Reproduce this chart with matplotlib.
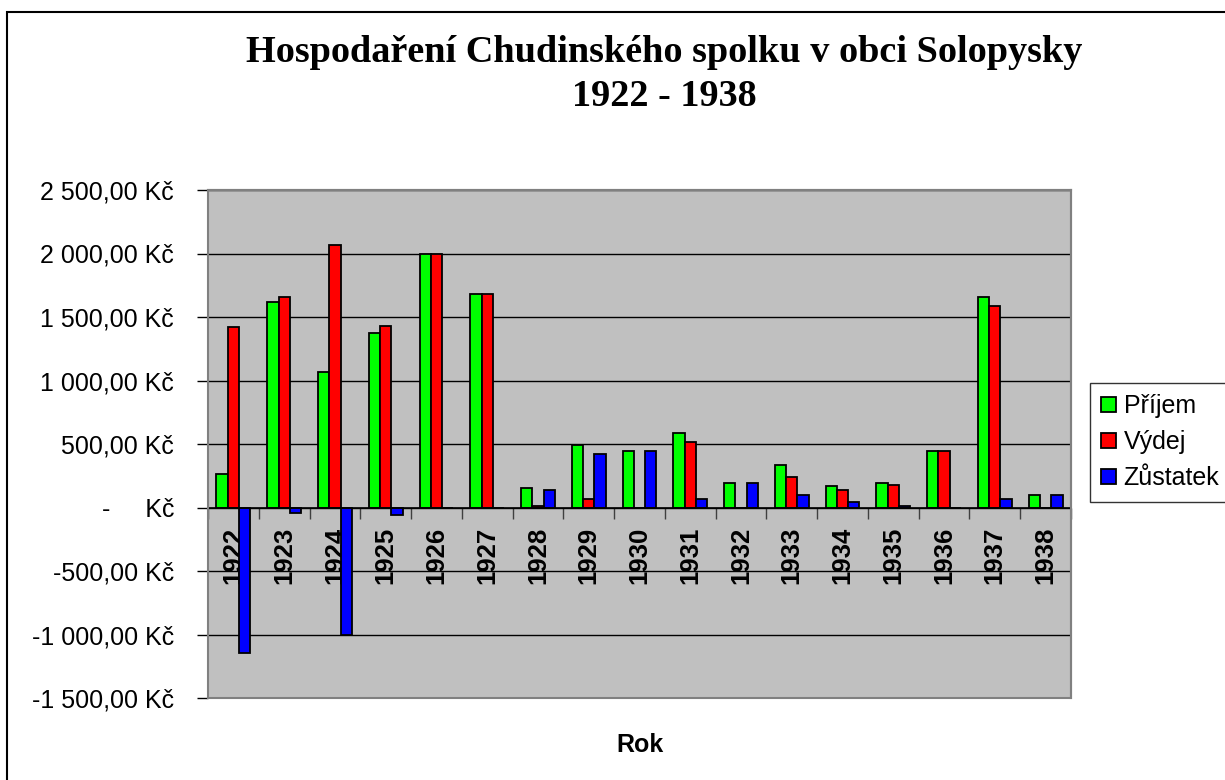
import matplotlib
matplotlib.use("Agg")
import matplotlib.pyplot as plt
import numpy as np
from matplotlib.patches import Rectangle

# Data (Kč)
years = ["1922", "1923", "1924", "1925", "1926", "1927", "1928", "1929", "1930",
         "1931", "1932", "1933", "1934", "1935", "1936", "1937", "1938"]
prijem = [265, 1615, 1067, 1373, 2000, 1685, 155, 490, 448,
          587, 194, 336, 168, 194, 448, 1657, 97]
vydej = [1418, 1657, 2066, 1431, 2000, 1685, 15, 68, 0,
         516, 0, 239, 139, 181, 448, 1588, 0]
zustatek = [-1143, -42, -1000, -58, 0, 0, 139, 422, 448,
            68, 194, 97, 42, 13, 0, 68, 97]

series = ["Příjem", "Výdej", "Zůstatek"]
colors = ["#00FF00", "#FF0000", "#0000FF"]

plt.rcParams['font.family'] = ['Liberation Sans', 'DejaVu Sans']

fig = plt.figure(figsize=(12.25, 7.8), dpi=100)
ax = fig.add_axes([208 / 1225, 1 - 698 / 780, (1071 - 208) / 1225, (698 - 190) / 780])
ax.set_facecolor("#C0C0C0")

x = np.arange(len(years))
w = 0.222
for k, (vals, name, col) in enumerate(zip([prijem, vydej, zustatek], series, colors)):
    ax.bar(x + (k - 1) * w, vals, w, color=col, edgecolor="black", linewidth=1.3,
           label=name, zorder=2)

ax.set_xlim(-0.5, len(years) - 0.5)
ax.set_ylim(-1500, 2500)
ax.set_yticks(np.arange(-1500, 2501, 500))
ax.yaxis.grid(True, color="black", linewidth=1, zorder=0.5)
ax.set_axisbelow(True)


def kc(v, pos=None):
    if v == 0:
        return "-     Kč"
    s = f"{abs(v):,.2f}".replace(",", " ").replace(".", ",")
    return ("-" if v < 0 else "") + s + " Kč"


ax.yaxis.set_major_formatter(plt.FuncFormatter(kc))
ax.tick_params(axis="y", direction="out", length=8, width=1, pad=16.5, labelsize=18)

# x axis at zero, with ticks between the categories
ax.spines["bottom"].set_position(("data", 0))
ax.spines["bottom"].set_color("black")
ax.spines["bottom"].set_linewidth(1.2)
ax.set_xticks(np.arange(-0.5, len(years), 1))
ax.set_xticklabels([])
ax.tick_params(axis="x", direction="out", length=8, width=1, color="#404040")
for side in ["top", "right"]:
    ax.spines[side].set_color("#808080")
    ax.spines[side].set_linewidth(1.5)
ax.spines["left"].set_color("black")
ax.spines["left"].set_linewidth(1.2)
ax.add_patch(Rectangle((0, 0), 1, 1, transform=ax.transAxes, fill=False,
                       edgecolor="#808080", linewidth=1.5, clip_on=False, zorder=3))

for i, yr in enumerate(years):
    ax.annotate(yr, xy=(i, 0), xytext=(0, -14), textcoords="offset points",
                rotation=90, ha="center", va="top", fontsize=18.5,
                fontweight="bold", zorder=1)

fig.text(0.542, 1 - 74.5 / 780, "Hospodaření Chudinského spolku v obci Solopysky\n1922 - 1938",
         ha="center", va="center", fontsize=27.5, fontweight="bold",
         family=["Liberation Serif", "DejaVu Serif"], linespacing=1.3)
fig.text(640 / 1225, 1 - 745 / 780, "Rok", ha="center", va="center",
         fontsize=18, fontweight="bold")

leg = fig.legend(loc="upper left", bbox_to_anchor=(1090 / 1225, 1 - 383 / 780),
                 fontsize=18, frameon=True, fancybox=False, handlelength=0.6,
                 handleheight=0.6, handletextpad=0.3, labelspacing=0.48,
                 borderpad=0.45, borderaxespad=0)
leg.get_frame().set_edgecolor("black")
leg.get_frame().set_linewidth(1)

fig.patches.append(Rectangle((7 / 1225, -0.1), 1.2, (780 - 12) / 780 + 0.1,
                             transform=fig.transFigure, fill=False,
                             edgecolor="black", linewidth=1.5))

fig.savefig("out.png", dpi=100)
